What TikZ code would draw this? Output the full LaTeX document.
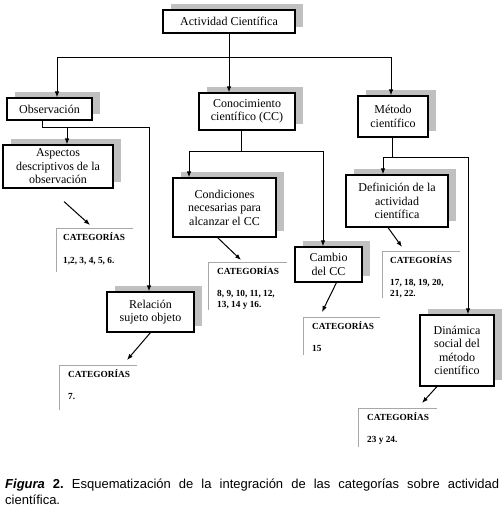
\documentclass[tikz,border=0pt]{standalone}
\usepackage{fontspec}
\setmainfont{Liberation Serif}
\setsansfont{Liberation Sans}
\usetikzlibrary{arrows.meta,shadows}
\definecolor{shadowgray}{HTML}{C0C0C0}
\definecolor{catgray}{HTML}{A8A8A8}
\begin{document}
\frenchspacing
\begin{tikzpicture}[x=1pt,y=-1pt,
 box/.style={draw=black, line width=1.1pt, fill=white, align=center, inner sep=0pt,
   font=\fontsize{12}{13.5}\selectfont,
   copy shadow={shadow xshift=8pt, shadow yshift=6pt, fill=shadowgray, draw=none}},
 link/.style={line width=1pt},
 arr/.style={link, -{Latex[length=6pt,width=4.5pt]}},
 cattext/.style={anchor=north west, inner sep=0pt, align=left, font=\bfseries\fontsize{9.3}{11}\selectfont},
 catline/.style={draw=catgray, line width=0.9pt}]
\useasboundingbox (0,0) rectangle (504,515);

% boxes
\node[box, minimum width=132pt, minimum height=23pt] (act) at (229,21.5) {Actividad Científica};
\node[box, minimum width=85pt, minimum height=22pt] (obs) at (49.5,109) {Observación};
\node[box, minimum width=96pt, minimum height=37pt] (con) at (247,111.5) {Conocimiento\\científico (CC)};
\node[box, minimum width=70pt, minimum height=41pt] (met) at (393,116.5) {Método\\científico};
\node[box, minimum width=110pt, minimum height=43pt] (asp) at (58,166.5) {Aspectos\\descriptivos de la\\observación};
\node[box, minimum width=103pt, minimum height=59pt] (cond) at (224.5,207.5) {Condiciones\\necesarias para\\alcanzar el CC};
\node[box, minimum width=102pt, minimum height=52pt] (def) at (397,201) {Definición de la\\actividad\\científica};
\node[box, minimum width=67pt, minimum height=35pt] (cam) at (328.5,264.5) {Cambio\\del CC};
\node[box, minimum width=87pt, minimum height=40pt] (rel) at (150.5,312) {Relación\\sujeto objeto};
\node[box, minimum width=74pt, minimum height=71pt] (din) at (457,350.5) {Dinámica\\social del\\método\\científico};

% category brackets
\coordinate (k1tl) at (56,228);
\draw[catline] ([xshift=77pt]k1tl) -- (k1tl) -- ++(0,44);
\node[cattext] (c1) at (63,232.5) {CATEGORÍAS\\[12pt]1,2, 3, 4, 5, 6.};
\coordinate (k2tl) at (208,262);
\draw[catline] ([xshift=79pt]k2tl) -- (k2tl) -- ++(0,48);
\node[cattext] (c2) at (217,266.5) {CATEGORÍAS\\[11pt]8, 9, 10, 11, 12,\\13, 14 y 16.};
\coordinate (k3tl) at (59,365);
\draw[catline] ([xshift=78pt]k3tl) -- (k3tl) -- ++(0,45);
\node[cattext] (c3) at (68,369.5) {CATEGORÍAS\\[11pt]7.};
\coordinate (k4tl) at (382,251);
\draw[catline] ([xshift=78pt]k4tl) -- (k4tl) -- ++(0,47);
\node[cattext] (c4) at (390,255.5) {CATEGORÍAS\\[11pt]17, 18, 19, 20,\\21, 22.};
\coordinate (k5tl) at (358,408);
\draw[catline] ([xshift=79pt]k5tl) -- (k5tl) -- ++(0,39);
\node[cattext] (c5) at (367,412.5) {CATEGORÍAS\\[11pt]23 y 24.};
\coordinate (k6tl) at (303,317);
\draw[catline] ([xshift=77pt]k6tl) -- (k6tl) -- ++(0,38);
\node[cattext] (c6) at (312,321.5) {CATEGORÍAS\\[11pt]15};

% top bus
\coordinate (b1) at (57,57);
\coordinate (b3) at (391,57);
\draw[link] (b1) -- (b3);
\draw[arr] (b1) -- (b1 |- obs.north);
\draw[arr] (act.south) -- (act.south |- con.north);
\draw[arr] (b3) -- (b3 |- met.north);

% observacion branch
\coordinate (o1) at (42,127);
\coordinate (o2) at (149,127);
\coordinate (o3) at (67,127);
\draw[arr] (obs.south -| o1) -- (o1) -- (o2) -- (o2 |- rel.north);
\draw[arr] (o3) -- (o3 |- asp.north);

% conocimiento branch
\coordinate (n0) at (241,151);
\coordinate (n1) at (189,151);
\coordinate (n2) at (323,151);
\draw[link] (con.south -| n0) -- (n0);
\draw[arr] (n1) -- (n1 |- cond.north);
\draw[arr] (n1) -- (n2) -- (n2 |- cam.north);

% metodo branch
\coordinate (m0) at (392,157);
\coordinate (m1) at (383,157);
\coordinate (m2) at (468,157);
\draw[link] (met.south -| m0) -- (m0);
\draw[arr] (m1) -- (m1 |- def.north);
\draw[arr] (m1) -- (m2) -- (m2 |- din.north);

% diagonal arrows to categories
\coordinate (t1) at (90,225);
\coordinate (t2) at (241,260);
\coordinate (t3) at (127,360);
\coordinate (t4) at (402,247);
\coordinate (t5) at (422,403);
\coordinate (t6) at (322,312);
\draw[arr] ([shift={(6,13)}]asp.south) -- (t1);
\draw[arr] ([shift={(-7,0)}]cond.south) -- (t2);
\draw[arr] (rel.south) -- (t3);
\draw[arr] ([shift={(-9,0)}]def.south) -- (t4);
\draw[arr] ([shift={(-20,0)}]din.south) -- (t5);
\draw[arr] ([shift={(8,0)}]cam.south) -- (t6);

% caption
\node[anchor=north west, inner sep=0pt, text width=494pt, align=justify,
  font=\sffamily\fontsize{13}{16}\selectfont] (cap) at (5,479)
  {\textbf{\textit{Figura} 2.} Esquematización de la integración de las categorías sobre actividad\linebreak científica.};
\end{tikzpicture}
\end{document}
